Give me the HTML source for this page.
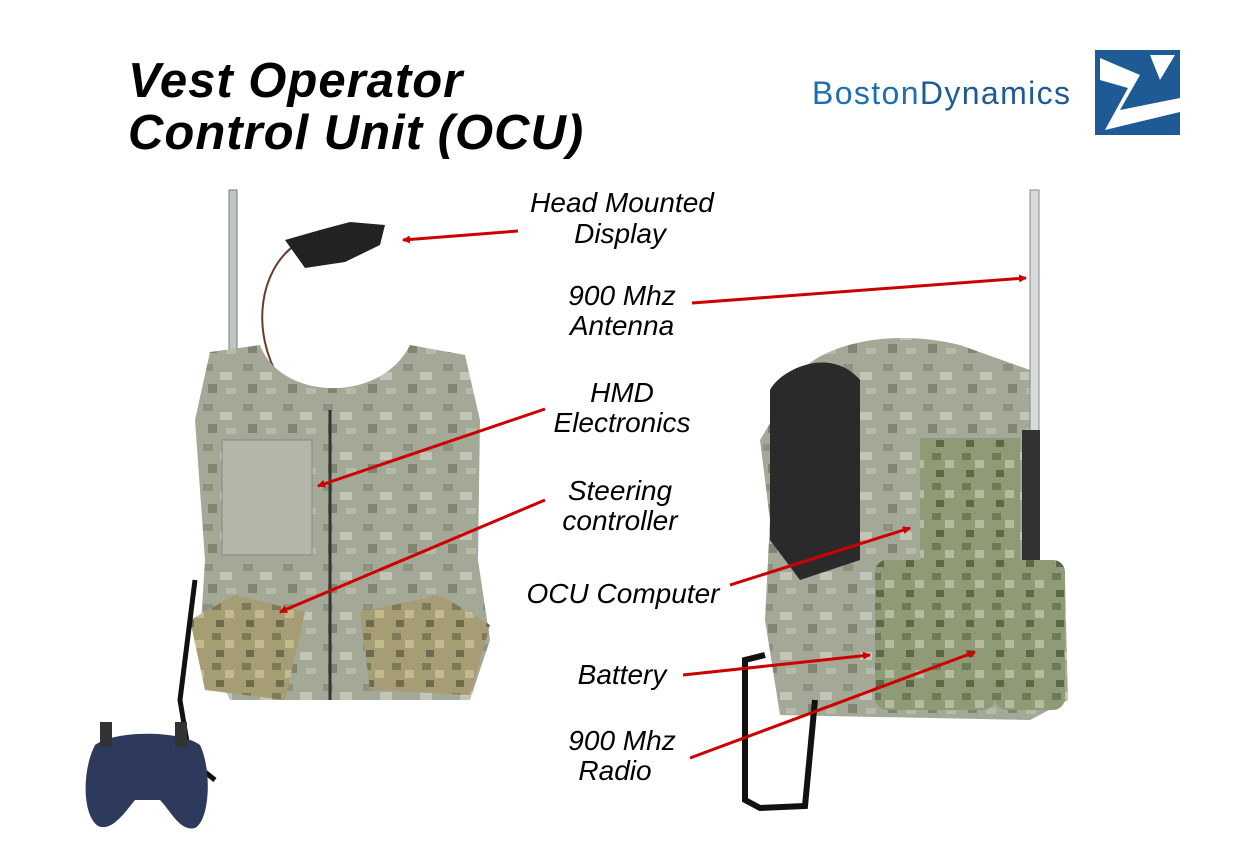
<!DOCTYPE html>
<html><head><meta charset="utf-8"><style>
html,body{margin:0;padding:0;background:#fff;width:1248px;height:857px;overflow:hidden}
svg{display:block}
.t{font-family:"Liberation Sans",Arial,sans-serif;font-style:italic}
</style></head><body>
<svg width="1248" height="857" viewBox="0 0 1248 857" xmlns="http://www.w3.org/2000/svg">
<defs>
<pattern id="camo" width="40" height="40" patternUnits="userSpaceOnUse">
<rect width="40" height="40" fill="#a4a897"/>
<rect x="3" y="4" width="10" height="7" fill="#8e937f"/>
<rect x="20" y="12" width="12" height="8" fill="#c3c5b8"/>
<rect x="8" y="24" width="9" height="9" fill="#7f8571"/>
<rect x="26" y="28" width="10" height="6" fill="#b7baa9"/>
</pattern>
<pattern id="camo2" width="30" height="30" patternUnits="userSpaceOnUse">
<rect width="30" height="30" fill="#a79d74"/>
<rect x="2" y="3" width="9" height="7" fill="#7d7a55"/>
<rect x="15" y="10" width="9" height="8" fill="#c3b98f"/>
<rect x="6" y="20" width="8" height="7" fill="#6b6d4c"/>
</pattern>
<pattern id="camo3" width="30" height="30" patternUnits="userSpaceOnUse">
<rect width="30" height="30" fill="#8f9a76"/>
<rect x="2" y="3" width="9" height="7" fill="#6e7a58"/>
<rect x="15" y="10" width="9" height="8" fill="#b4bb9f"/>
<rect x="6" y="20" width="8" height="7" fill="#5d6847"/>
</pattern>
<marker id="ah" markerWidth="8" markerHeight="8" refX="7" refY="4" orient="auto" markerUnits="userSpaceOnUse"><path d="M0,0 L8,4 L0,8 z" fill="#cc0000"/></marker>
</defs>

<text class="t" x="128" y="97" font-size="49" font-weight="bold" fill="#000" letter-spacing="1">Vest Operator</text>
<text class="t" x="128" y="149" font-size="49" font-weight="bold" fill="#000" letter-spacing="1">Control Unit (OCU)</text>

<text x="812" y="104" font-family="Liberation Sans,Arial,sans-serif" font-size="32" fill="#1d6fb5" textLength="258">Boston<tspan fill="#1d5a96">Dynamics</tspan></text>
<rect x="1095" y="50" width="85" height="85" fill="#1e5a93"/>
<path d="M1100,58 L1140,75 L1120,110 L1180,98 L1180,112 L1105,130 L1128,88 L1100,80 Z" fill="#fff"/>
<path d="M1150,55 L1175,55 L1160,80 Z" fill="#fff"/>

<rect x="229" y="190" width="8" height="165" fill="#bfc4c4" stroke="#777" stroke-width="1"/>
<path d="M295,245 C260,270 250,330 280,380 C300,420 270,440 275,450" stroke="#6b3a2a" stroke-width="2" fill="none"/>
<path d="M285,240 L320,230 L350,222 L385,225 L380,245 L345,262 L305,268 Z" fill="#222"/>

<path d="M210,352 L260,345 C280,400 380,405 410,345 L465,355 L480,420 L478,560 L490,640 L470,700 L230,700 L200,640 L205,560 L195,420 Z" fill="url(#camo)"/>
<path d="M330,410 L330,700" stroke="#333" stroke-width="3"/>
<rect x="222" y="440" width="90" height="115" fill="#b5b6aa" stroke="#888"/>
<path d="M190,620 L235,595 L305,612 L285,700 L205,690 Z" fill="url(#camo2)"/>
<path d="M360,612 L440,595 L490,625 L470,695 L370,690 Z" fill="url(#camo2)"/>
<path d="M195,580 L180,700 L190,760 L215,780" stroke="#111" stroke-width="5" fill="none"/>

<path d="M95,745 C115,730 180,730 200,745 C212,770 210,820 195,828 C180,832 170,810 160,800 L135,800 C125,812 112,832 98,826 C82,815 82,770 95,745 Z" fill="#2d3a5c"/>
<rect x="100" y="722" width="12" height="25" fill="#333"/>
<rect x="175" y="722" width="12" height="25" fill="#333"/>

<path d="M790,390 C800,350 880,325 960,345 L1030,370 L1040,560 L1065,580 L1068,700 L1030,720 L780,715 L765,620 L770,520 L760,440 Z" fill="url(#camo)"/>
<path d="M770,390 C780,370 830,345 860,380 L860,560 L800,580 L770,540 Z" fill="#2a2a2a"/>
<rect x="920" y="438" width="100" height="130" fill="url(#camo3)"/>
<rect x="875" y="560" width="120" height="150" rx="12" fill="url(#camo3)"/>
<rect x="995" y="560" width="70" height="150" rx="12" fill="url(#camo3)"/>
<rect x="1030" y="190" width="9" height="250" fill="#d6dada" stroke="#888"/>
<rect x="1022" y="430" width="18" height="130" fill="#333"/>
<path d="M765,655 L745,660 L745,800 L760,808 L805,806 L815,700" stroke="#111" stroke-width="6" fill="none"/>

<g class="t" font-size="28" fill="#000" text-anchor="middle">
<text x="622" y="212">Head Mounted</text>
<text x="620" y="243">Display</text>
<text x="622" y="305">900 Mhz</text>
<text x="622" y="335">Antenna</text>
<text x="622" y="402">HMD</text>
<text x="622" y="432">Electronics</text>
<text x="620" y="500">Steering</text>
<text x="620" y="530">controller</text>
<text x="623" y="603">OCU Computer</text>
<text x="622" y="684">Battery</text>
<text x="622" y="750">900 Mhz</text>
<text x="615" y="780">Radio</text>
</g>

<g stroke="#cc0000" stroke-width="3" fill="none" marker-end="url(#ah)">
<line x1="518" y1="231" x2="403" y2="240"/>
<line x1="692" y1="303" x2="1026" y2="278"/>
<line x1="545" y1="409" x2="318" y2="486"/>
<line x1="545" y1="500" x2="280" y2="612"/>
<line x1="730" y1="585" x2="910" y2="528"/>
<line x1="683" y1="675" x2="870" y2="655"/>
<line x1="690" y1="758" x2="975" y2="652"/>
</g>
</svg>
</body></html>
